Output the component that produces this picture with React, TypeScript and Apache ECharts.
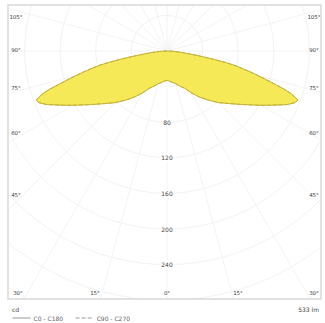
import { useEffect, useRef } from 'react';
import * as echarts from 'echarts';

// Gamma angles (degrees from nadir) and luminous intensities (cd)
const gammaAngles = [0, 5, 10, 15, 20, 25, 30, 35, 40, 45, 50, 55, 60, 63, 66, 68, 69.5, 71, 72, 74, 76, 78, 79, 80, 81, 82, 84, 86, 88, 90];
const intensityC0 = [33, 34, 36, 38, 42, 46, 54, 63, 72, 82, 92, 105, 122, 134, 148, 155, 157, 148, 138, 115, 96, 78, 66, 52, 40, 30, 18, 10, 5, 0];
const intensityC90 = [33, 34, 36, 38, 42, 46, 54, 63, 72, 82, 92, 105, 122, 134, 148, 155, 157, 148, 138, 115, 96, 78, 66, 52, 40, 30, 18, 10, 5, 0];
const radialTicks = [80, 120, 160, 200, 240];
const sideAngleLabels = ['105°', '90°', '75°', '60°', '45°'];
const bottomAngleLabels = ['30°', '15°', '0°', '15°', '30°'];
const seriesNames = ['C0 - C180', 'C90 - C270'];
const unitLabel = 'cd';
const fluxLabel = '533 lm';

const FONT = 'DejaVu Sans';

function toPolar(vals: number[]) {
  const left = gammaAngles.map((a, i) => [vals[i], a]).reverse();
  const right = gammaAngles.map((a, i) => [vals[i], 360 - a]);
  return [...left, ...right];
}

export default function App() {
  const ref = useRef<HTMLDivElement>(null);
  useEffect(() => {
    if (!ref.current) return;
    const chart = echarts.init(ref.current, undefined, { renderer: 'svg' });

    const sideY = [17, 50, 88, 133, 195];
    const bottomX = [18, 95, 167, 238, 314];
    const txt = (x: number, y: number, text: string, align = 'center', size = 5.5) => ({
      type: 'text',
      x,
      y,
      z: 60,
      style: { text, fill: '#444444', font: `${size}px "${FONT}"`, align, verticalAlign: 'middle' },
    });

    const graphics: any[] = [
      { type: 'rect', z: 50, shape: { x: 0, y: 0, width: 325, height: 5 }, style: { fill: '#fff' } },
      { type: 'rect', z: 50, shape: { x: 0, y: 0, width: 8, height: 323 }, style: { fill: '#fff' } },
      { type: 'rect', z: 50, shape: { x: 321, y: 0, width: 4, height: 323 }, style: { fill: '#fff' } },
      { type: 'rect', z: 50, shape: { x: 0, y: 299, width: 325, height: 24 }, style: { fill: '#fff' } },
      { type: 'rect', z: 55, shape: { x: 8, y: 5, width: 313, height: 294 }, style: { fill: 'none', stroke: '#d9d9d9', lineWidth: 1.5 } },
    ];
    sideAngleLabels.forEach((l, i) => {
      graphics.push(txt(16, sideY[i], l));
      graphics.push(txt(314, sideY[i], l));
    });
    bottomAngleLabels.forEach((l, i) => graphics.push(txt(bottomX[i], 293, l)));
    graphics.push(txt(12, 309, unitLabel, 'left', 6));
    graphics.push(txt(319, 309, fluxLabel, 'right', 6));

    chart.setOption({
      animation: false,
      backgroundColor: '#fff',
      polar: { center: [167, 51], radius: [0, 320.4] },
      angleAxis: {
        type: 'value',
        min: 0,
        max: 360,
        interval: 15,
        startAngle: 270,
        clockwise: true,
        axisLine: { show: false },
        axisTick: { show: false },
        axisLabel: { show: false },
        splitLine: { show: true, lineStyle: { color: '#f3f3f3', width: 1 } },
      },
      radiusAxis: {
        type: 'value',
        min: 0,
        max: 360,
        interval: 40,
        axisLine: { show: false },
        axisTick: { show: false },
        axisLabel: {
          formatter: (v: number) => (radialTicks.includes(v) ? String(v) : ''),
          fontSize: 6,
          fontFamily: FONT,
          color: '#444444',
          align: 'center',
          verticalAlign: 'middle',
          margin: 0,
          backgroundColor: '#fff',
          padding: [1, 1],
        },
        splitLine: { show: true, lineStyle: { color: '#f3f3f3', width: 1 } },
      },
      legend: {
        left: 12,
        top: 315,
        padding: 0,
        itemWidth: 18,
        itemHeight: 6,
        itemGap: 12,
        textStyle: { fontSize: 6, color: '#666', fontFamily: FONT, padding: [0, 0, 0, -2] },
        lineStyle: { color: '#9a9a9a', width: 1 },
        itemStyle: { opacity: 0 },
        data: seriesNames,
        z: 60,
      },
      series: [
        {
          name: seriesNames[0],
          type: 'line',
          coordinateSystem: 'polar',
          data: toPolar(intensityC0),
          symbol: 'none',
          lineStyle: { color: '#c4b43a', width: 1 },
          itemStyle: { color: '#c4b43a' },
          areaStyle: { color: '#f6e957', opacity: 1 },
          z: 3,
        },
        {
          name: seriesNames[1],
          type: 'line',
          coordinateSystem: 'polar',
          data: toPolar(intensityC90),
          symbol: 'none',
          lineStyle: { color: '#c4b43a', width: 1, type: 'dashed' },
          itemStyle: { color: '#c4b43a' },
          z: 4,
        },
      ],
      graphic: graphics,
    });
    return () => chart.dispose();
  }, []);
  return <div ref={ref} style={{ position: 'fixed', left: 0, top: 0, width: 325, height: 323 }} />;
}
